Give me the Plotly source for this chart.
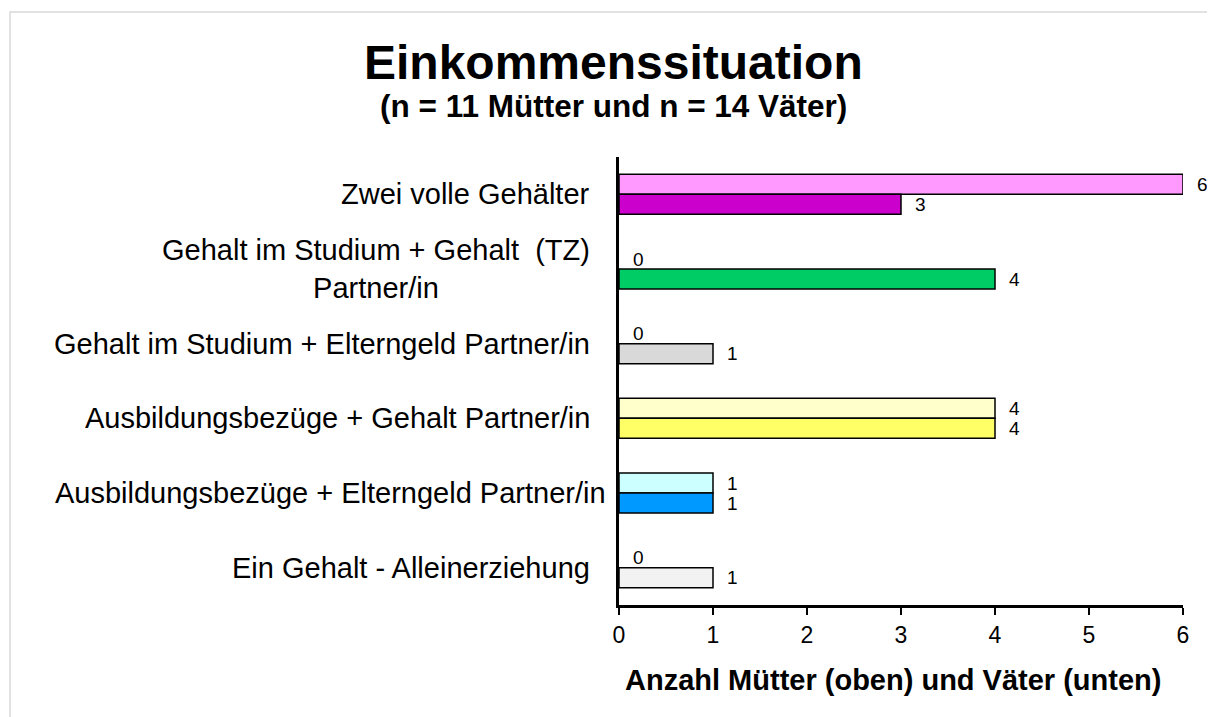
import plotly.graph_objects as go

# categories, top to bottom
categories = [
    "Zwei volle Gehälter",
    "Gehalt im Studium + Gehalt\u00a0 (TZ)<br>Partner/in",
    "Gehalt im Studium + Elterngeld Partner/in",
    "Ausbildungsbezüge + Gehalt Partner/in",
    "Ausbildungsbezüge + Elterngeld Partner/in",
    "Ein Gehalt - Alleinerziehung",
]
muetter = [6, 0, 0, 4, 1, 0]
vaeter = [3, 4, 1, 4, 1, 1]

muetter_colors = ["#FF99FF", "#FFFFFF", "#FFFFFF", "#FFFFCC", "#CCFFFF", "#FFFFFF"]
vaeter_colors = ["#CC00CC", "#00CC66", "#D9D9D9", "#FFFF66", "#0099FF", "#F2F2F2"]

x_ticks = [0, 1, 2, 3, 4, 5, 6]

FONT = "Arial, Liberation Sans, sans-serif"

# the long label sticks out a little to the right in the original
label_nudge = {4: 16}

fig = go.Figure()

fig.add_trace(go.Bar(
    y=categories, x=muetter, orientation="h", name="Mütter",
    marker=dict(color=muetter_colors,
                line=dict(color="black", width=[1.5 if v > 0 else 0 for v in muetter])),
    hoverinfo="x+y",
))
fig.add_trace(go.Bar(
    y=categories, x=vaeter, orientation="h", name="Väter",
    marker=dict(color=vaeter_colors,
                line=dict(color="black", width=[1.5 if v > 0 else 0 for v in vaeter])),
    hoverinfo="x+y",
))

# value labels right of each bar (Mütter above, Väter below)
for cat, m, v in zip(categories, muetter, vaeter):
    fig.add_annotation(x=m, y=cat, text=str(m), showarrow=False,
                       xanchor="left", xshift=12, yshift=10,
                       font=dict(family=FONT, size=19, color="black"))
    fig.add_annotation(x=v, y=cat, text=str(v), showarrow=False,
                       xanchor="left", xshift=12, yshift=-10,
                       font=dict(family=FONT, size=19, color="black"))

# category labels, centred multi-line text right-aligned to the axis
for i, cat in enumerate(categories):
    fig.add_annotation(x=-0.048, xref="paper", y=cat, yref="y", text=cat,
                       showarrow=False, xanchor="right", yanchor="middle",
                       align="center", xshift=label_nudge.get(i, 0),
                       font=dict(family=FONT, size=29, color="black"))

# titles
fig.add_annotation(x=-0.009, y=1.212, xref="paper", yref="paper",
                   text="<b>Einkommenssituation</b>", showarrow=False,
                   xanchor="center", yanchor="middle",
                   font=dict(family=FONT, size=48, color="black"))
fig.add_annotation(x=-0.009, y=1.114, xref="paper", yref="paper",
                   text="<b>(n = 11 Mütter und n = 14 Väter)</b>", showarrow=False,
                   xanchor="center", yanchor="middle",
                   font=dict(family=FONT, size=31.5, color="black"))
fig.add_annotation(x=0.486, y=-0.167, xref="paper", yref="paper",
                   text="<b>Anzahl Mütter (oben) und Väter (unten)</b>", showarrow=False,
                   xanchor="center", yanchor="middle",
                   font=dict(family=FONT, size=29, color="black"))

# light frame around the chart
fig.add_shape(type="rect", xref="paper", yref="paper",
              x0=-1.0798, x1=1.09, y0=-0.28, y1=1.3237,
              line=dict(color="#D9D9D9", width=1.5), fillcolor="rgba(0,0,0,0)")

# page body adds an 8px offset, so the figure is 8px smaller than the window
fig.update_layout(
    width=1207, height=709,
    margin=dict(l=611, r=32, t=149, b=112),
    barmode="group", bargap=0.464, bargroupgap=0,
    showlegend=False,
    plot_bgcolor="white", paper_bgcolor="white",
    font=dict(family=FONT, color="black"),
)
fig.update_xaxes(range=[0, 6], tickvals=x_ticks, showgrid=False, zeroline=False,
                 showline=True, linecolor="black", linewidth=3,
                 ticks="outside", ticklen=7, tickwidth=2, tickcolor="black",
                 tickfont=dict(family=FONT, size=23, color="black"))
fig.update_yaxes(autorange="reversed", showgrid=False, zeroline=False,
                 showline=True, linecolor="black", linewidth=3,
                 showticklabels=False, ticks="")

fig.write_html("out.html")
